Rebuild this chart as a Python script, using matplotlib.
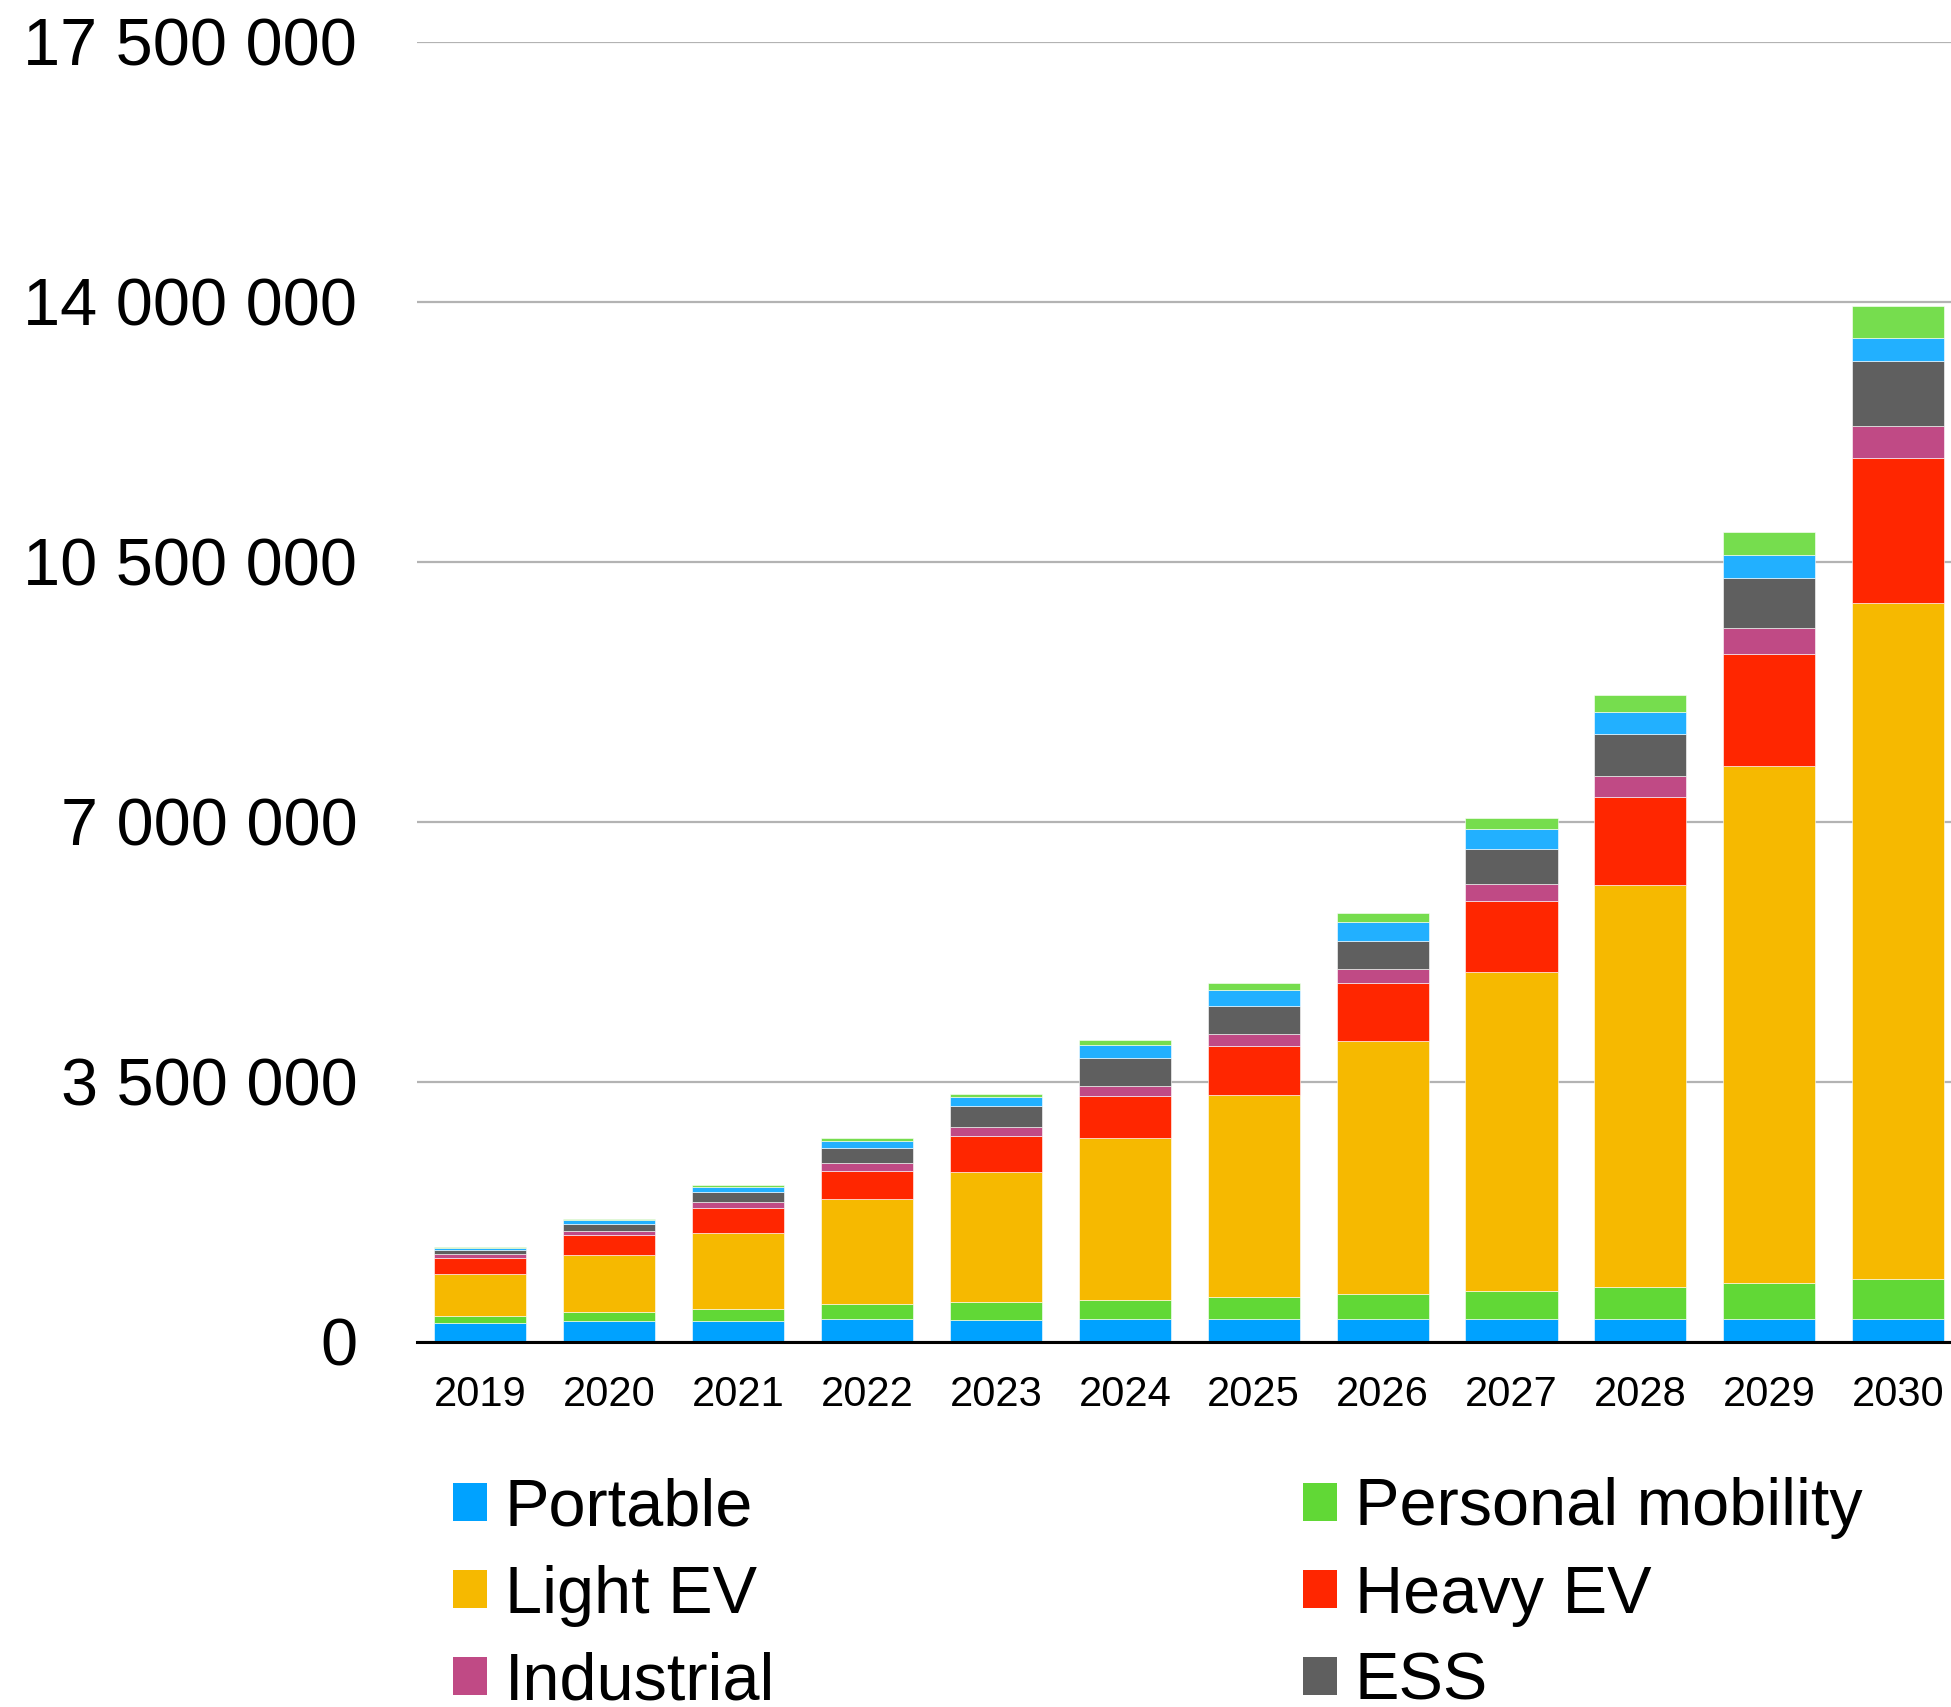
import numpy as np
import matplotlib
matplotlib.use("Agg")
import matplotlib.pyplot as plt
from matplotlib.ticker import FuncFormatter
from matplotlib.patches import Patch

plt.rcParams['font.family'] = ['Liberation Sans', 'DejaVu Sans']

years = ["2019", "2020", "2021", "2022", "2023", "2024",
         "2025", "2026", "2027", "2028", "2029", "2030"]

# values in millions
portable = [0.25, 0.28, 0.28, 0.315, 0.30, 0.31, 0.31, 0.31, 0.31, 0.31, 0.31, 0.31]
personal_mobility = [0.10, 0.125, 0.16, 0.19, 0.235, 0.26, 0.30, 0.34, 0.38, 0.43, 0.48, 0.54]
light_ev = [0.56, 0.76, 1.03, 1.42, 1.755, 2.18, 2.72, 3.40, 4.29, 5.41, 6.97, 9.10]
heavy_ev = [0.22, 0.27, 0.33, 0.38, 0.48, 0.56, 0.66, 0.78, 0.96, 1.19, 1.50, 1.95]
industrial = [0.06, 0.06, 0.08, 0.10, 0.12, 0.14, 0.16, 0.19, 0.23, 0.28, 0.35, 0.43]
ess = [0.05, 0.10, 0.135, 0.21, 0.29, 0.37, 0.37, 0.38, 0.46, 0.57, 0.67, 0.87]
# two more series on top of each bar (legend rows cut off in the source)
other_a = [0.03, 0.045, 0.075, 0.09, 0.12, 0.18, 0.22, 0.25, 0.27, 0.29, 0.31, 0.32]
other_b = [0.01, 0.015, 0.027, 0.035, 0.04, 0.06, 0.09, 0.12, 0.16, 0.23, 0.31, 0.43]

series = [portable, personal_mobility, light_ev, heavy_ev, industrial, ess, other_a, other_b]
colors = ["#00a2ff", "#61d836", "#f6b900", "#ff2600", "#c04a85", "#5f5f5f", "#22b0ff", "#76dd4e"]
labels = ["Portable", "Personal mobility", "Light EV", "Heavy EV", "Industrial", "ESS", None, None]

fig = plt.figure(figsize=(19.51, 17.07), dpi=100)
ax = fig.add_axes([417 / 1951, 1 - 1342 / 1707, 1 - 417 / 1951, (1342 - 42) / 1707])

x = np.arange(len(years))
bottom = np.zeros(len(years))
for vals, col in zip(series, colors):
    v = np.array(vals) * 1e6
    ax.bar(x, v, width=0.714, bottom=bottom, color=col, edgecolor="#ffffff", linewidth=0.4, zorder=3)
    bottom += v

ax.set_xlim(-0.492, 11.41)
ax.set_ylim(0, 17500000)
ax.set_yticks(np.arange(0, 17500001, 3500000))
ax.yaxis.set_major_formatter(FuncFormatter(lambda v, p: f"{int(v):,}".replace(",", " ")))
ax.set_xticks(x)
ax.set_xticklabels(years)

ax.grid(axis="y", color="#b3b3b3", linewidth=1.6, zorder=0)
for s in ["left", "right", "top"]:
    ax.spines[s].set_visible(False)
ax.spines["bottom"].set_color("black")
ax.spines["bottom"].set_linewidth(2.2)
ax.spines["bottom"].set_zorder(4)

ax.tick_params(axis="y", length=0, pad=43, labelsize=48)
ax.tick_params(axis="x", length=0, pad=24, labelsize=30)

handles = [Patch(facecolor=c) for c in colors]
col1 = [0, 2, 4]
col2 = [1, 3, 5]
common = dict(frameon=False, fontsize=48, handlelength=0.5, handleheight=0.5,
              handletextpad=0.27, labelspacing=0.38, borderpad=0, loc="upper left")
leg1 = fig.legend([handles[i] for i in col1], [labels[i] for i in col1],
                  bbox_to_anchor=(420 / 1951, 1 - 1444 / 1707), **common)
leg2 = fig.legend([handles[i] for i in col2], [labels[i] for i in col2],
                  bbox_to_anchor=(1270 / 1951, 1 - 1444 / 1707), **common)

fig.savefig("out.png", dpi=100)
